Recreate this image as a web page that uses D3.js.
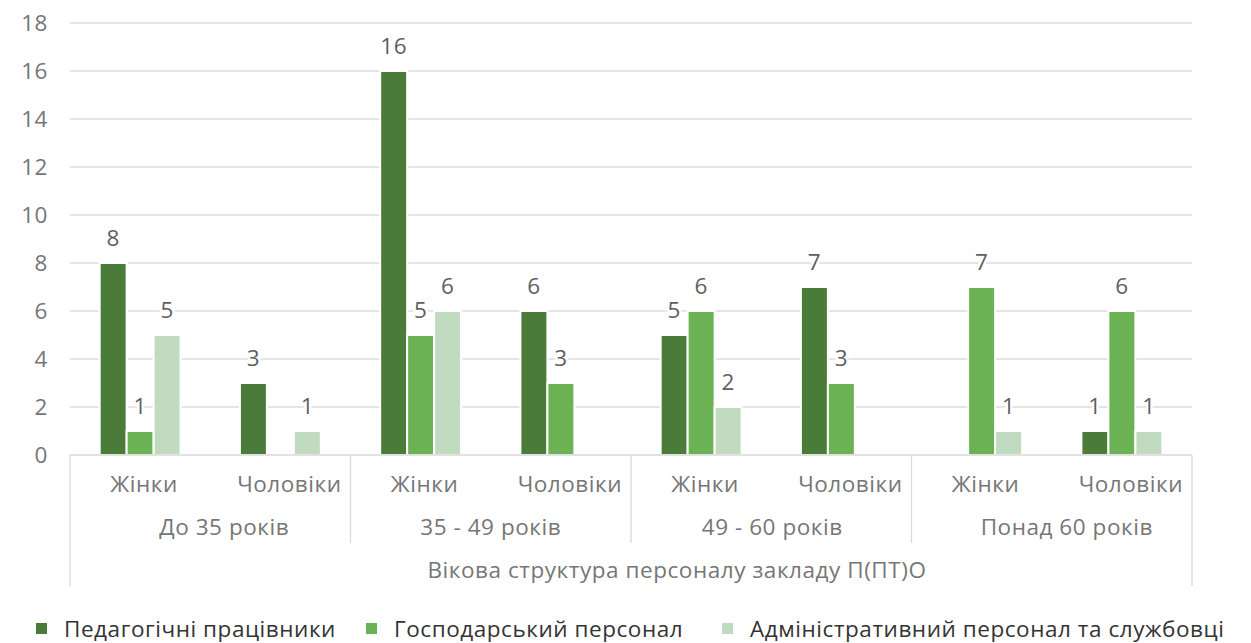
<!DOCTYPE html>
<html>
<head>
<meta charset="utf-8">
<script src="https://cdn.jsdelivr.net/npm/d3@7"></script>
<style>
  body { margin: 0; background: #fff; }
  text { font-family: "Open Sans", Lato, sans-serif; letter-spacing: 0.55px; }
</style>
</head>
<body>
<svg id="chart" width="1251" height="643"></svg>
<script>
// data
var ageGroups = ["До 35 років", "35 - 49 років", "49 - 60 років", "Понад 60 років"];
var sexes = ["Жінки", "Чоловіки"];
var seriesNames = ["Педагогічні працівники", "Господарський персонал", "Адміністративний персонал та службовці"];
var pedagogical = [8, 3, 16, 6, 5, 7, null, 1];
var household = [1, null, 5, 3, 6, 3, 7, 6];
var administrative = [5, 1, 6, null, 2, null, 1, 1];
var yTicks = [0, 2, 4, 6, 8, 10, 12, 14, 16, 18];
var axisTitle = "Вікова структура персоналу закладу П(ПТ)О";

var colors = ["#4b7b39", "#6ab254", "#c1dbc1"];
var allSeries = [pedagogical, household, administrative];

var svg = d3.select("#chart");
var plotLeft = 70, plotRight = 1192, plotBase = 455, plotTop = 23;
var fontSize = "22.5px";
// label nudges so the text sits where Excel put it
var sexDx = [4, 9];
var groupDx = [14, 0, 1, 15];

// one slot per age group x sex
var slots = [];
ageGroups.forEach(function (g, gi) {
	sexes.forEach(function (s, si) {
		slots.push({ group: gi, si: si, sex: s, idx: gi * 2 + si });
	});
});

var y = d3.scaleLinear().domain([0, 18]).range([plotBase, plotTop]);
var x0 = d3.scaleBand().domain(d3.range(slots.length)).range([plotLeft, plotRight]);
var x1 = d3.scaleBand().domain(d3.range(3)).range([0, x0.bandwidth()]).paddingOuter(1.1);
var xg = d3.scaleBand().domain(d3.range(ageGroups.length)).range([plotLeft, plotRight]);

// gridlines
svg.append("g").selectAll("line")
	.data(yTicks.filter(function (t) { return t > 0; }))
	.join("line")
	.attr("x1", plotLeft).attr("x2", plotRight)
	.attr("y1", function (d) { return y(d); }).attr("y2", function (d) { return y(d); })
	.attr("stroke", "#dcdcdc").attr("stroke-width", 1.3);

// y tick labels
svg.append("g").selectAll("text")
	.data(yTicks)
	.join("text")
	.attr("x", 48)
	.attr("y", function (d) { return y(d); })
	.attr("dy", "0.36em")
	.attr("text-anchor", "end")
	.attr("fill", "#767676")
	.style("font-size", fontSize)
	.text(function (d) { return d; });

// bars
var bars = [];
allSeries.forEach(function (vals, si) {
	vals.forEach(function (v, i) {
		if (v != null) bars.push({ s: si, i: i, v: v });
	});
});

svg.append("g").selectAll("rect")
	.data(bars)
	.join("rect")
	.attr("x", function (d) { return x0(d.i) + x1(d.s); })
	.attr("width", x1.bandwidth())
	.attr("y", function (d) { return y(d.v); })
	.attr("height", function (d) { return plotBase - y(d.v); })
	.attr("fill", function (d) { return colors[d.s]; })
	.attr("stroke", "#fff")
	.attr("stroke-width", 2);

// value labels
svg.append("g").selectAll("text")
	.data(bars)
	.join("text")
	.attr("x", function (d) { return x0(d.i) + x1(d.s) + x1.bandwidth() / 2; })
	.attr("y", function (d) { return y(d.v) - 17; })
	.attr("text-anchor", "middle")
	.attr("fill", "#5f5f5f")
	.attr("stroke", "#fff")
	.attr("stroke-width", 5)
	.attr("paint-order", "stroke")
	.style("font-size", fontSize)
	.text(function (d) { return d.v; });

// category axis
var axis = svg.append("g").attr("stroke", "#d9d9d9").attr("stroke-width", 1.3);
axis.append("line").attr("x1", plotLeft).attr("x2", plotRight).attr("y1", plotBase).attr("y2", plotBase);
[plotLeft, plotRight].forEach(function (xx) {
	axis.append("line").attr("x1", xx).attr("x2", xx).attr("y1", plotBase).attr("y2", 586);
});
d3.range(1, ageGroups.length).forEach(function (gi) {
	axis.append("line").attr("x1", xg(gi)).attr("x2", xg(gi)).attr("y1", plotBase).attr("y2", 543);
});

svg.append("g").selectAll("text")
	.data(slots)
	.join("text")
	.attr("x", function (d) { return x0(d.idx) + x0.bandwidth() / 2 + sexDx[d.si]; })
	.attr("y", 492)
	.attr("text-anchor", "middle")
	.attr("fill", "#767676")
	.style("font-size", fontSize)
	.text(function (d) { return d.sex; });

svg.append("g").selectAll("text")
	.data(ageGroups)
	.join("text")
	.attr("x", function (d, i) { return xg(i) + xg.bandwidth() / 2 + groupDx[i]; })
	.attr("y", 535)
	.attr("text-anchor", "middle")
	.attr("fill", "#767676")
	.style("font-size", fontSize)
	.text(function (d) { return d; });

svg.append("text")
	.attr("x", (plotLeft + plotRight) / 2 + 46)
	.attr("y", 578)
	.attr("text-anchor", "middle")
	.attr("fill", "#767676")
	.style("font-size", fontSize)
	.text(axisTitle);

// legend
var legendX = [36, 366, 722];
var legend = svg.append("g").selectAll("g")
	.data(seriesNames)
	.join("g")
	.attr("transform", function (d, i) { return "translate(" + legendX[i] + ",623)"; });
legend.append("rect").attr("width", 11).attr("height", 11)
	.attr("fill", function (d, i) { return colors[i]; });
legend.append("text")
	.attr("x", 28).attr("y", 14)
	.attr("fill", "#333")
	.style("font-size", fontSize)
	.text(function (d) { return d; });
</script>
</body>
</html>
